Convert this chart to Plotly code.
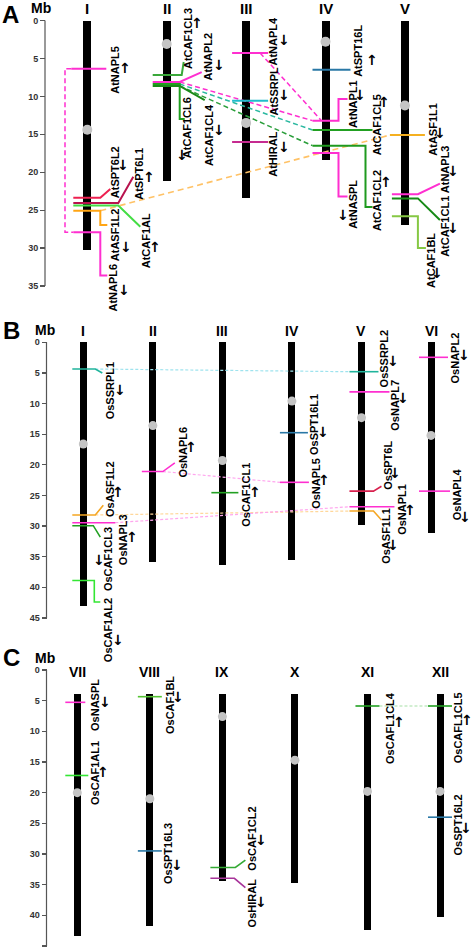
import plotly.graph_objects as go

W, H = 472, 951
FONT = "Liberation Sans, Arial, sans-serif"

# ======================= DATA =======================
# Panel A : Arabidopsis
A_CHROMS = ["I", "II", "III", "IV", "V"]
A_START = [0, 0, 0, 0, 0]
A_END = [30.2, 21.1, 23.4, 18.4, 26.9]
A_CENTRO = [14.4, 3.1, 13.5, 2.8, 11.2]
A_TICKS = [0, 5, 10, 15, 20, 25, 30, 35]
A_GENES = ["AtNAPL5", "AtSPT6L2", "AtSPT6L1", "AtCAF1AL", "AtASF1L2", "AtNAPL6",
           "AtCAF1CL3", "AtNAPL2", "AtCAF1CL6", "AtCAF1CL4",
           "AtNAPL4", "AtSSRPL", "AtHIRAL",
           "AtSPT16L", "AtNAPL1", "AtCAF1CL5", "AtCAF1CL2", "AtNASPL",
           "AtASF1L1", "AtNAPL3", "AtCAF1CL1", "AtCAF1BL"]
A_GENE_CHR = [1, 1, 1, 1, 1, 1, 2, 2, 2, 2, 3, 3, 3, 4, 4, 4, 4, 4, 5, 5, 5, 5]
A_GENE_MB = [6.35, 23.36, 24.06, 24.4, 25.07, 27.9,
             7.18, 8.1, 8.37, 8.63,
             4.28, 10.57, 16.0,
             6.5, 13.2, 14.43, 16.5, 17.47,
             15.1, 22.9, 23.45, 25.8]
A_GENE_STRAND = ["up", "down", "up", "up", "down", "down",
                 "up", "down", "down", "down",
                 "down", "down", "down",
                 "up", "down", "up", "up", "down",
                 "down", "down", "down", "down"]
A_LINKS = [("AtNAPL5", "AtNAPL6"), ("AtNAPL2", "AtNAPL1"), ("AtNAPL4", "AtNAPL1"),
           ("AtCAF1CL6", "AtCAF1CL5"), ("AtCAF1CL4", "AtCAF1CL2"), ("AtASF1L2", "AtASF1L1")]

# Panel B : rice chromosomes 1-6
B_CHROMS = ["I", "II", "III", "IV", "V", "VI"]
B_START = [0, 0, 0, 0, 0, 0]
B_END = [43.1, 35.8, 36.3, 35.5, 29.8, 31.1]
B_CENTRO = [16.6, 13.6, 19.3, 9.6, 12.3, 15.2]
B_TICKS = [0, 5, 10, 15, 20, 25, 30, 35, 40, 45]
B_GENES = ["OsSSRPL1", "OsASF1L2", "OsNAPL3", "OsCAF1CL3", "OsCAF1AL2",
           "OsNAPL6", "OsCAF1CL1", "OsSPT16L1", "OsNAPL5",
           "OsSSRPL2", "OsNAPL7", "OsSPT6L", "OsNAPL1", "OsASF1L1",
           "OsNAPL2", "OsNAPL4"]
B_GENE_CHR = [1, 1, 1, 1, 1, 2, 3, 4, 4, 5, 5, 5, 5, 5, 6, 6]
B_GENE_MB = [4.36, 28.2, 29.45, 29.94, 38.9,
             21.1, 24.55, 14.76, 22.86,
             4.8, 8.1, 24.3, 26.85, 27.55,
             2.45, 24.3]
B_GENE_STRAND = ["down", "up", "up", "down", "down",
                 "up", "up", "down", "up",
                 "down", "down", "down", "up", "down",
                 "down", "down"]
B_LINKS = [("OsSSRPL1", "OsSSRPL2"), ("OsNAPL6", "OsNAPL5"),
           ("OsASF1L2", "OsASF1L1"), ("OsNAPL3", "OsNAPL1")]

# Panel C : rice chromosomes 7-12
C_CHROMS = ["VII", "VIII", "IX", "X", "XI", "XII"]
C_START = [3.9, 3.9, 3.9, 3.9, 3.9, 3.9]
C_END = [43.3, 41.7, 34.4, 34.8, 42.4, 40.3]
C_CENTRO = [20.0, 21.0, 7.6, 14.7, 19.8, 19.8]
C_TICKS = [0, 5, 10, 15, 20, 25, 30, 35, 40, 45]
C_GENES = ["OsNASPL", "OsCAF1AL1", "OsCAF1BL", "OsSPT16L3", "OsCAF1CL2", "OsHIRAL",
           "OsCAFL1CL4", "OsCAFL1CL5", "OsSPT16L2"]
C_GENE_CHR = [1, 1, 2, 2, 3, 3, 5, 6, 6]
C_GENE_MB = [5.27, 17.2, 4.35, 29.5, 32.2, 33.96, 5.87, 5.87, 24.0]
C_GENE_STRAND = ["down", "up", "down", "down", "down", "down", "up", "up", "down"]
C_LINKS = [("OsCAFL1CL4", "OsCAFL1CL5")]

# ======================= STYLE / LAYOUT =======================
GEOM = {
    "A": dict(xa="x", ya="y", x0=87.3, sp=79.4, y0=20.5, ppm=7.586, top=0, bot=305,
              axis_x=45, bar_w=8, lw=2.0, ruler=35, letter=(10, 14, 24), mb=(41, 8), chrom_y=8,
              chrom_fs=15),
    "B": dict(xa="x2", ya="y2", x0=83.3, sp=69.54, y0=342.3, ppm=6.125, top=305, bot=670,
              axis_x=46.5, bar_w=7, lw=1.6, ruler=45, letter=(11, 330, 24), mb=(45, 330), chrom_y=331,
              chrom_fs=14),
    "C": dict(xa="x3", ya="y3", x0=77.3, sp=72.54, y0=670, ppm=6.133, top=640, bot=951,
              axis_x=46.5, bar_w=7, lw=1.6, ruler=45, letter=(11, 657, 24), mb=(45, 657.5), chrom_y=672,
              chrom_fs=14),
}

MAG = "#ff2fd0"
COLORS = {
    "AtNAPL5": MAG, "AtSPT6L2": "#ee2050", "AtSPT6L1": "#b8124e", "AtCAF1AL": "#44dd44",
    "AtASF1L2": "#ffa514", "AtNAPL6": MAG, "AtCAF1CL3": "#3aa83a", "AtNAPL2": MAG,
    "AtCAF1CL6": "#1f9f1f", "AtCAF1CL4": "#1a8a1a", "AtNAPL4": MAG, "AtSSRPL": "#20bccc",
    "AtHIRAL": "#c62a90", "AtSPT16L": "#2a78a6", "AtNAPL1": MAG, "AtCAF1CL5": "#22a022",
    "AtCAF1CL2": "#1f9a1f", "AtNASPL": MAG, "AtASF1L1": "#f5b020", "AtNAPL3": MAG,
    "AtCAF1CL1": "#178a17", "AtCAF1BL": "#86c844",
    "OsSSRPL1": "#20b49c", "OsASF1L2": "#f5a623", "OsNAPL3": MAG, "OsCAF1CL3": "#22a022",
    "OsCAF1AL2": "#33e633", "OsNAPL6": MAG, "OsCAF1CL1": "#22a022", "OsSPT16L1": "#2a78a6",
    "OsNAPL5": MAG, "OsSSRPL2": "#20b49c", "OsNAPL7": MAG, "OsSPT6L": "#d8204e",
    "OsNAPL1": MAG, "OsASF1L1": "#f5a623", "OsNAPL2": MAG, "OsNAPL4": MAG,
    "OsNASPL": MAG, "OsCAF1AL1": "#33e633", "OsCAF1BL": "#55c433", "OsSPT16L3": "#2a78a6",
    "OsCAF1CL2": "#33aa33", "OsHIRAL": "#a8349a", "OsCAFL1CL4": "#22a022",
    "OsCAFL1CL5": "#22a022", "OsSPT16L2": "#2a78a6",
}

# label geometry: path points (dx px from chromosome centre, Mb or "g" = gene position),
# text centre (dx px, Mb) and strand arrow (dx px, Mb)
G = "g"
LABELS = {
    # ---- A
    "AtNAPL5": dict(path=[(-16, G), (19, G)], text=(27.7, 6.5), arrow=(37.7, 6.3)),
    "AtSPT6L2": dict(path=[(-14, G), (13, G), (23, 22.2)], text=(27.7, 20.0), arrow=(35.7, 19.0)),
    "AtSPT6L1": dict(path=[(-14, G), (31, G), (46, 20.6)], text=(51.7, 20.2), arrow=(61.7, 20.6)),
    "AtCAF1AL": dict(path=[(-14, G), (31, G), (53, 27.2)], text=(58.7, 29.1), arrow=(67.7, 29.9)),
    "AtASF1L2": dict(path=[(-14, G), (13, G), (13, 26.96), (20, 26.96)], text=(27.7, 28.3), arrow=(38.7, 29.9)),
    "AtNAPL6": dict(path=[(-14, G), (13, G), (13, 33.6), (20, 33.6)], text=(25.7, 35.2), arrow=(36.7, 35.5)),
    "AtCAF1CL3": dict(path=[(-14, G), (15, G), (17, 5.47)], text=(21.3, 2.44), arrow=(30.3, 0.33)),
    "AtNAPL2": dict(path=[(-14, G), (13, G), (35, 6.8)], text=(41.3, 4.75), arrow=(52.3, 5.87)),
    "AtCAF1CL6": dict(path=[(-14, G), (13, G), (13, 13.0), (18, 13.0)], text=(20.3, 14.2), arrow=(15.3, 17.7)),
    "AtCAF1CL4": dict(path=[(-14, G), (13, G), (38, 10.5)], text=(42.3, 15.1), arrow=(52.3, 14.4)),
    "AtNAPL4": dict(path=[(-14, G), (22, G)], text=(26.9, 2.77), arrow=(37.9, 2.57)),
    "AtSSRPL": dict(path=[(-14, G), (22, G)], text=(26.9, 9.36), arrow=(37.9, 9.8)),
    "AtHIRAL": dict(path=[(-14, G), (22, G)], text=(26.9, 17.7), arrow=(37.9, 16.7)),
    "AtSPT16L": dict(path=[(-13, G), (25, G)], text=(32.5, 4.0), arrow=(46, 5.2)),
    "AtNAPL1": dict(path=[(-13, G), (13, G), (13, 10.35), (22, 10.35)], text=(27.5, 11.0), arrow=(34.5, 9.8)),
    "AtCAF1CL5": dict(path=[(-13, G), (47, G)], text=(51.5, 13.8), arrow=(58.5, 10.7)),
    "AtCAF1CL2": dict(path=[(-13, G), (40, G), (40, 24.6), (47, 24.6)], text=(51.5, 23.8), arrow=(60.5, 21.25)),
    "AtNASPL": dict(path=[(-13, G), (13, G), (13, 23.2), (22, 23.2)], text=(27.5, 24.3), arrow=(17, 25.6)),
    "AtASF1L1": dict(path=[(-15, G), (20, G)], text=(27.8, 14.3), arrow=(34.6, 14.8)),
    "AtNAPL3": dict(path=[(-13, G), (13, G), (35, 21.5)], text=(40.1, 19.6), arrow=(48, 19.9)),
    "AtCAF1CL1": dict(path=[(-13, G), (13, G), (35, 26.3)], text=(40.1, 27.2), arrow=(48, 27.35)),
    "AtCAF1BL": dict(path=[(-13, G), (13, G), (13, 30.0), (21, 30.0)], text=(26.8, 31.6), arrow=(31.8, 33.3)),
    # ---- B
    "OsSSRPL1": dict(path=[(-11, G), (12, G), (19, 5.0)], text=(26.7, 8.0), arrow=(36.7, 7.8)),
    "OsASF1L2": dict(path=[(-11, G), (12, G), (20, 26.6)], text=(26.7, 23.95), arrow=(34.7, 24.4)),
    "OsNAPL3": dict(path=[(-11, G), (32, G)], text=(39.7, 32.3), arrow=(48.7, 31.8)),
    "OsCAF1CL3": dict(path=[(-11, G), (10, G), (17, 31.8)], text=(24.7, 35.4), arrow=(15.7, 35.5)),
    "OsCAF1AL2": dict(path=[(-11, G), (11, G), (11, 42.4), (17, 42.4)], text=(24.7, 47.0), arrow=(34.7, 48.6)),
    "OsNAPL6": dict(path=[(-11, G), (10, G), (22, 19.7)], text=(30.2, 18.0), arrow=(38.2, 17.1)),
    "OsCAF1CL1": dict(path=[(-11, G), (16, G)], text=(23.6, 24.9), arrow=(32.6, 24.4)),
    "OsSPT16L1": dict(path=[(-12, G), (16, G)], text=(22.1, 13.5), arrow=(31.1, 14.7)),
    "OsNAPL5": dict(path=[(-12, G), (17, G)], text=(24.1, 23.1), arrow=(32.1, 22.5)),
    "OsSSRPL2": dict(path=[(-12, G), (17, G)], text=(23.5, 2.64), arrow=(31.5, 3.05)),
    "OsNAPL7": dict(path=[(-12, G), (28, G)], text=(33.5, 10.2), arrow=(41.5, 9.1)),
    "OsSPT6L": dict(path=[(-12, G), (12, G), (20, 23.5)], text=(26.5, 20.0), arrow=(33.5, 21.3)),
    "OsNAPL1": dict(path=[(-12, G), (33, G)], text=(40.5, 27.2), arrow=(48.5, 27.4)),
    "OsASF1L1": dict(path=[(-12, G), (12, G), (20, 29.0)], text=(24.5, 31.6), arrow=(31.5, 33.1)),
    "OsNAPL2": dict(path=[(-12, G), (17, G)], text=(24.0, 2.64), arrow=(33.0, 2.07)),
    "OsNAPL4": dict(path=[(-12, G), (19, G)], text=(26.0, 24.8), arrow=(34.0, 28.5)),
    # ---- C
    "OsNASPL": dict(path=[(-12, G), (8, G)], text=(17.7, 5.7), arrow=(27.7, 5.2)),
    "OsCAF1AL1": dict(path=[(-12, G), (11, G)], text=(17.7, 16.8), arrow=(25.7, 16.6)),
    "OsCAF1BL": dict(path=[(-12, G), (12, G)], text=(20.2, 5.7), arrow=(28.2, 4.4)),
    "OsSPT16L3": dict(path=[(-12, G), (12, G)], text=(18.2, 30.0), arrow=(27.2, 31.8)),
    "OsCAF1CL2": dict(path=[(-12, G), (13, G), (23, 31.0)], text=(29.6, 27.5), arrow=(38.6, 27.7)),
    "OsHIRAL": dict(path=[(-12, G), (12, G), (23, 35.5)], text=(29.6, 37.9), arrow=(38.6, 37.8)),
    "OsCAFL1CL4": dict(path=[(-12, G), (12, G)], text=(22.5, 9.46), arrow=(31.5, 8.5)),
    "OsCAFL1CL5": dict(path=[(-12, G), (12, G)], text=(18.0, 9.5), arrow=(26.5, 8.2)),
    "OsSPT16L2": dict(path=[(-12, G), (12, G)], text=(18.0, 25.35), arrow=(26.0, 25.8)),
}

# link geometry: (dx start, dx end) px, colour, dash, width, optional bracket dx
LINK_STYLE = {
    ("AtNAPL5", "AtNAPL6"): dict(kind="bracket", bx=-22.3, a=-16, b=-14, color="#ff2fd0", dash="5px,3px", w=1.5),
    ("AtNAPL2", "AtNAPL1"): dict(kind="line", a=13, b=-13, color="#ff2fd0", dash="5px,3px", w=1.5),
    ("AtNAPL4", "AtNAPL1"): dict(kind="line", a=14, b=-4, color="#ff2fd0", dash="5px,3px", w=1.5),
    ("AtCAF1CL6", "AtCAF1CL5"): dict(kind="line", a=13, b=-13, color="#2ab8a0", dash="5px,3px", w=1.5),
    ("AtCAF1CL4", "AtCAF1CL2"): dict(kind="line", a=13, b=-13, color="#2a9e3a", dash="5px,3px", w=1.5),
    ("AtASF1L2", "AtASF1L1"): dict(kind="line", a=13, b=-15, color="#ffc266", dash="6px,4px", w=1.6),
    ("OsSSRPL1", "OsSSRPL2"): dict(kind="line", a=12, b=-12, color="#9ee3ee", dash="3px,2px", w=1.2),
    ("OsNAPL6", "OsNAPL5"): dict(kind="line", a=10, b=-12, color="#ffa6ee", dash="3px,2px", w=1.2),
    ("OsASF1L2", "OsASF1L1"): dict(kind="line", a=12, b=-12, color="#ffd79a", dash="3px,2px", w=1.2),
    ("OsNAPL3", "OsNAPL1"): dict(kind="line", a=32, b=-12, color="#ffa6ee", dash="3px,2px", w=1.2),
    ("OsCAFL1CL4", "OsCAFL1CL5"): dict(kind="line", a=12, b=-12, color="#a6e0a6", dash="3px,2px", w=1.2),
}

PANELS = [
    ("A", A_CHROMS, A_START, A_END, A_CENTRO, A_TICKS, A_GENES, A_GENE_CHR, A_GENE_MB, A_GENE_STRAND, A_LINKS),
    ("B", B_CHROMS, B_START, B_END, B_CENTRO, B_TICKS, B_GENES, B_GENE_CHR, B_GENE_MB, B_GENE_STRAND, B_LINKS),
    ("C", C_CHROMS, C_START, C_END, C_CENTRO, C_TICKS, C_GENES, C_GENE_CHR, C_GENE_MB, C_GENE_STRAND, C_LINKS),
]

fig = go.Figure()
annotations = []
shapes = []
layout_axes = {}

for idx, (p, chroms, starts, ends, cens, ticks, genes, gchr, gmb, gstr, links) in enumerate(PANELS):
    g = GEOM[p]
    xa, ya = g["xa"], g["ya"]
    sfx = "" if idx == 0 else str(idx + 1)

    def X(ci, dx, g=g):
        return ci + dx / g["sp"]

    def Ypx(py, g=g):
        return (py - g["y0"]) / g["ppm"]

    n = len(chroms)
    pos = list(range(1, n + 1))

    # chromosomes
    fig.add_trace(go.Bar(
        x=pos, y=[e - s for s, e in zip(starts, ends)], base=starts,
        width=g["bar_w"] / g["sp"], marker=dict(color="black", line=dict(width=0)),
        xaxis=xa, yaxis=ya, showlegend=False, hoverinfo="skip"))
    # centromeres
    fig.add_trace(go.Scatter(
        x=pos, y=cens, mode="markers",
        marker=dict(symbol="circle", size=g["bar_w"] + 2, color="#c4c4c4", line=dict(width=0)),
        xaxis=xa, yaxis=ya, showlegend=False, hoverinfo="skip", cliponaxis=False))

    gpos = {name: (c, m) for name, c, m in zip(genes, gchr, gmb)}

    # links (drawn first, under genes)
    for (g1, g2) in links:
        st = LINK_STYLE[(g1, g2)]
        c1, m1 = gpos[g1]
        c2, m2 = gpos[g2]
        if st["kind"] == "bracket":
            xs = [X(c1, st["a"]), X(c1, st["bx"]), X(c1, st["bx"]), X(c2, st["b"])]
            ys = [m1, m1, m2, m2]
        else:
            xs = [X(c1, st["a"]), X(c2, st["b"])]
            ys = [m1, m2]
        fig.add_trace(go.Scatter(
            x=xs, y=ys, mode="lines",
            line=dict(color=st["color"], width=st["w"], dash=st["dash"]),
            xaxis=xa, yaxis=ya, showlegend=False, hoverinfo="skip"))

    # genes
    for name, c, m, s in zip(genes, gchr, gmb, gstr):
        L = LABELS[name]
        xs = [X(c, dx) for dx, _ in L["path"]]
        ys = [m if yy == G else yy for _, yy in L["path"]]
        fig.add_trace(go.Scatter(
            x=xs, y=ys, mode="lines",
            line=dict(color=COLORS[name], width=g["lw"]),
            xaxis=xa, yaxis=ya, showlegend=False, hoverinfo="skip"))
        tdx, tmb = L["text"]
        annotations.append(dict(
            text=name, x=X(c, tdx), y=tmb, xref=xa, yref=ya, showarrow=False,
            textangle=-90, xanchor="center", yanchor="middle",
            font=dict(family=FONT, size=11, color="black", weight="bold")))
        adx, amb = L["arrow"]
        annotations.append(dict(
            text="↑" if s == "up" else "↓", x=X(c, adx), y=amb, xref=xa, yref=ya,
            showarrow=False, xanchor="center", yanchor="middle",
            font=dict(family="DejaVu Sans", size=14, color="black", weight="bold")))

    # chromosome numerals
    for ci, lab in zip(pos, chroms):
        annotations.append(dict(
            text=lab, x=ci, y=Ypx(g["chrom_y"]), xref=xa, yref=ya, showarrow=False,
            xanchor="center", yanchor="middle",
            font=dict(family=FONT, size=g["chrom_fs"], color="black", weight="bold")))

    # panel letter and "Mb"
    lx, ly, lfs = g["letter"]
    annotations.append(dict(text=p, x=lx / W, y=1 - ly / H, xref="paper", yref="paper",
                            showarrow=False, xanchor="center", yanchor="middle",
                            font=dict(family=FONT, size=lfs, color="black", weight="bold")))
    mx, my = g["mb"]
    annotations.append(dict(text="Mb", x=mx / W, y=1 - my / H, xref="paper", yref="paper",
                            showarrow=False, xanchor="center", yanchor="middle",
                            font=dict(family=FONT, size=14, color="black", weight="bold")))

    # ruler line
    shapes.append(dict(type="line", xref="paper", yref=ya, x0=g["axis_x"] / W, x1=g["axis_x"] / W,
                       y0=ticks[0], y1=g["ruler"], line=dict(color="#555555", width=1.2)))

    # axes
    xr = [1 - g["x0"] / g["sp"], 1 + (W - g["x0"]) / g["sp"]]
    yr = [Ypx(g["bot"]), Ypx(g["top"])]
    layout_axes["xaxis" + sfx] = dict(domain=[0, 1], range=xr, visible=False, anchor=ya,
                                      fixedrange=True)
    layout_axes["yaxis" + sfx] = dict(
        domain=[1 - g["bot"] / H, 1 - g["top"] / H], range=yr, anchor="free",
        position=g["axis_x"] / W, showgrid=False, zeroline=False, showline=False,
        tickmode="array", tickvals=ticks, ticktext=[str(t) for t in ticks],
        ticks="outside", ticklen=5, tickwidth=1.2, tickcolor="#555555",
        tickfont=dict(family=FONT, size=9, color="#333333", weight="bold"),
        fixedrange=True)

fig.update_layout(
    width=W, height=H, margin=dict(l=0, r=0, t=0, b=0),
    paper_bgcolor="white", plot_bgcolor="rgba(0,0,0,0)",
    showlegend=False, annotations=annotations, shapes=shapes,
    bargap=0, **layout_axes)

fig.write_html("out.html", config={"displayModeBar": False, "staticPlot": True},
               post_script="document.body.style.margin='0';document.body.style.padding='0';")
